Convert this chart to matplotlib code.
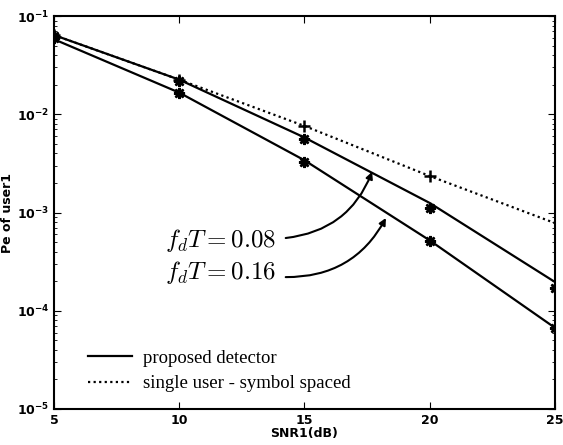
import numpy as np
import matplotlib
matplotlib.use("Agg")
import matplotlib.pyplot as plt

plt.rcParams['mathtext.fontset'] = 'cm'

snr = [5, 10, 15, 20, 25]
# analytical curves (proposed detector)
pe_008 = [0.064, 0.0225, 0.0058, 0.00125, 0.000196]
pe_016 = [0.058, 0.0166, 0.0034, 0.00052, 0.000067]
# simulated points
sim_008 = [0.062, 0.0218, 0.0056, 0.00111, 0.00017]
sim_016 = [0.060, 0.0164, 0.0033, 0.00051, 0.000067]
# single user - symbol spaced
pe_single = [0.064, 0.0225, 0.0076, 0.00235, 0.00078]
sim_single = [0.064, 0.0225, 0.0076, 0.00235]

fig = plt.figure(figsize=(5.63, 4.45), dpi=100)
ax = fig.add_axes([0.0959, 0.0809, 0.8899, 0.8831])

ax.semilogy(snr, pe_008, color='black', lw=1.6, label='proposed detector')
ax.semilogy(snr, pe_016, color='black', lw=1.6)
ax.semilogy(snr, pe_single, color='black', lw=1.6, ls=(0, (1, 1.5)),
            label='single user - symbol spaced')
ast = (8, 2, 0)
ax.semilogy(snr, sim_008, ls='none', marker=ast, ms=8, mew=1.8, color='black')
ax.semilogy(snr, sim_016, ls='none', marker=ast, ms=8, mew=1.8, color='black')
ax.semilogy(snr[:4], sim_single, ls='none', marker='+', ms=8, mew=1.8, color='black')

ax.set_xlim(5, 25)
ax.set_ylim(1e-5, 1e-1)
ax.set_xticks([5, 10, 15, 20, 25])
ax.tick_params(which='both', direction='in', top=True, right=True, labelsize=9)
ax.tick_params(which='major', length=5)
ax.tick_params(which='minor', length=2.5)
for lab in ax.get_xticklabels() + ax.get_yticklabels():
    lab.set_fontweight('bold')
for s in ax.spines.values():
    s.set_linewidth(1.5)

ax.set_xlabel('SNR1(dB)', fontsize=9, fontweight='bold', labelpad=0)
ax.set_ylabel('Pe of user1', fontsize=9, fontweight='bold', labelpad=2)

fs = 18
ax.text(9.45, 5.25e-4, r'$f_dT = 0.08$', fontsize=fs, va='center', ha='left')
ax.text(9.45, 2.45e-4, r'$f_dT = 0.16$', fontsize=fs, va='center', ha='left')
arrow = dict(arrowstyle='-|>', color='black', lw=1.5, mutation_scale=10,
             connectionstyle='arc3,rad=0.3', shrinkA=0, shrinkB=0)
ax.annotate('', xy=(17.7, 2.6e-3), xytext=(14.25, 5.5e-4), arrowprops=arrow)
ax.annotate('', xy=(18.25, 8.8e-4), xytext=(14.25, 2.2e-4), arrowprops=arrow)

ax.legend(loc='lower left', bbox_to_anchor=(0.035, 0.0), frameon=False,
          prop={'family': 'Liberation Serif', 'size': 13.5}, handlelength=2.3,
          handletextpad=0.6, labelspacing=0.45)

fig.savefig('out.png', dpi=100)
